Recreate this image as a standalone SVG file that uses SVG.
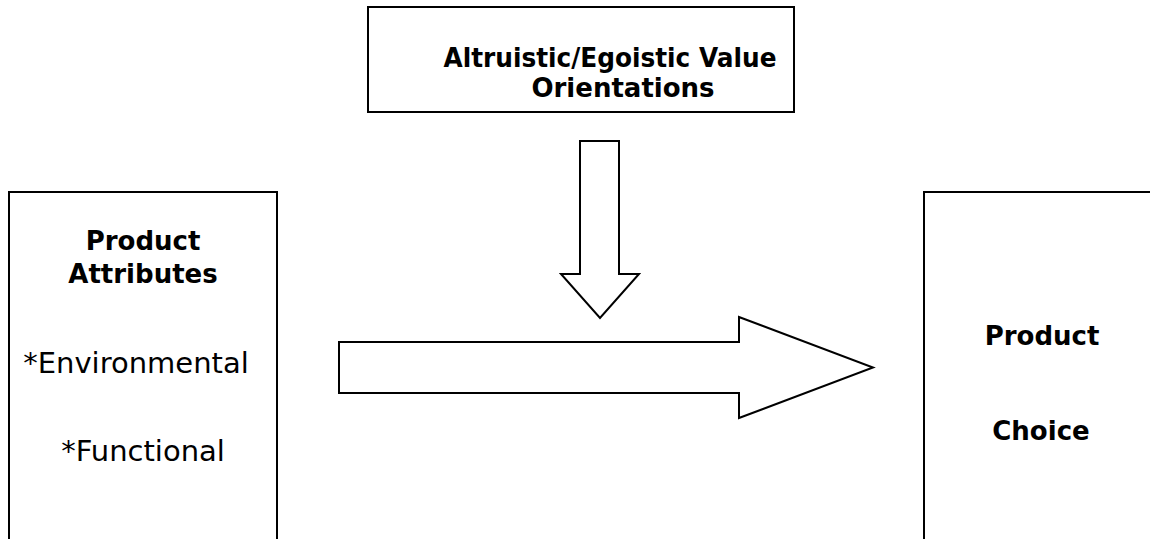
<svg xmlns="http://www.w3.org/2000/svg" width="1150" height="539" viewBox="0 0 1150 539">
<style>
.box{fill:#fff;stroke:#000;stroke-width:2}
.arr{fill:#fff;stroke:#000;stroke-width:2;stroke-linejoin:miter}
.b{font-family:"DejaVu Sans",Verdana,sans-serif;font-weight:bold;font-size:26px;text-anchor:middle;fill:#000}
.r{font-family:"DejaVu Sans",Verdana,sans-serif;font-size:29px;text-anchor:middle;fill:#000}
</style>
<rect width="1150" height="539" fill="#fff"/>
<g id="values">
<rect class="box" x="368" y="7" width="426" height="105"/>
<text class="b" x="610" y="67" textLength="333" lengthAdjust="spacingAndGlyphs">Altruistic/Egoistic Value</text>
<text class="b" x="623" y="97">Orientations</text>
</g>
<g id="attributes">
<path class="box" d="M9,540 V192 H277 V540"/>
<text class="b" x="143" y="250">Product</text>
<text class="b" x="143" y="283">Attributes</text>
<text class="r" x="136" y="373">*Environmental</text>
<text class="r" x="143" y="461">*Functional</text>
</g>
<g id="choice">
<path class="box" d="M924,540 V192 H1152"/>
<text class="b" x="1042" y="345">Product</text>
<text class="b" x="1041" y="440">Choice</text>
</g>
<g id="connectors">
<polygon class="arr" points="580,141 619,141 619,274 639,274 600,318 561,274 580,274"/>
<polygon class="arr" points="339,342 739,342 739,317 873,367.5 739,418 739,393 339,393"/>
</g>
</svg>
